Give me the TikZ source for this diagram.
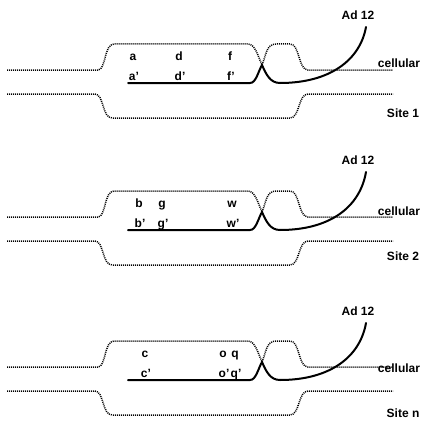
\documentclass[tikz,border=0pt]{standalone}
\usepackage{fontspec}
\setmainfont{Liberation Sans}
\begin{document}
\begin{tikzpicture}[x=1pt,y=-1pt,
  dna/.style={line width=1.5pt,dash pattern=on 1pt off 1pt},
  vir/.style={line width=2pt,line cap=round},
  lbl/.style={font=\bfseries\fontsize{12}{14}\selectfont,inner sep=0pt},
  let/.style={lbl,anchor=base},
  ]
\useasboundingbox (0,0) rectangle (428,420);
\newcommand\mypanel[9]{%
 \begin{scope}[shift={(0,#1)}]
  \coordinate (x#2) at (262,65);
  \draw[dna] (7,70) -- (98,70) .. controls (106,70) and (104,44) .. (114,44) -- (248,44) .. controls (255,44) and (258,56) .. (x#2);
  \draw[dna] (x#2) .. controls (266,56) and (266,44) .. (276,44) -- (290,44) .. controls (300,44) and (298,70) .. (308,70) -- (393,70);
  \draw[dna] (7,94) -- (95,94) .. controls (104,94) and (102,118) .. (112,118) -- (290,118) .. controls (300,118) and (298,94) .. (308,94) -- (393,94);
  \coordinate (s#2) at (128,83);
  \coordinate (e#2) at (366,#4);
  \draw[vir] (s#2) -- (250,83) .. controls (256,83) and (258,72) .. (x#2) .. controls (266,74) and (270,83) .. (280,83) .. controls (330,83) and (360,60) .. (e#2);
  \node[lbl] (ad#2) at (358,#4-12) {Ad 12};
  \node[lbl] (cel#2) at (399,#5) {cellular};
  \node[lbl] (site#2) at (403,#6) {#3};
  #7
 \end{scope}}
\mypanel{0}{1}{Site 1}{27}{63}{113}{%
  \node[let] (a) at (133,60) {a}; \node[let] (d) at (179,60) {d}; \node[let] (f) at (230,60) {f};
  \node[let] (ap) at (134,80) {a’}; \node[let] (dp) at (180,80) {d’}; \node[let] (fp) at (231,80) {f’};}{}{}
\mypanel{147}{2}{Site 2}{25}{64}{109}{%
  \node[let] (b) at (139,60) {b}; \node[let] (g) at (162,60) {g}; \node[let] (w) at (232,60) {w};
  \node[let] (bp) at (140,80) {b’}; \node[let] (gp) at (163,80) {g’}; \node[let] (wp) at (233,80) {w’};}{}{}
\mypanel{297}{3}{Site n}{26}{71}{116}{%
  \node[let] (c) at (145,60) {c}; \node[let] (o) at (223,60) {o}; \node[let] (q) at (235,60) {q};
  \node[let] (cp) at (146,80) {c’}; \node[let] (op) at (224,80) {o’}; \node[let] (qp) at (236,80) {q’};}{}{}
\end{tikzpicture}
\end{document}
